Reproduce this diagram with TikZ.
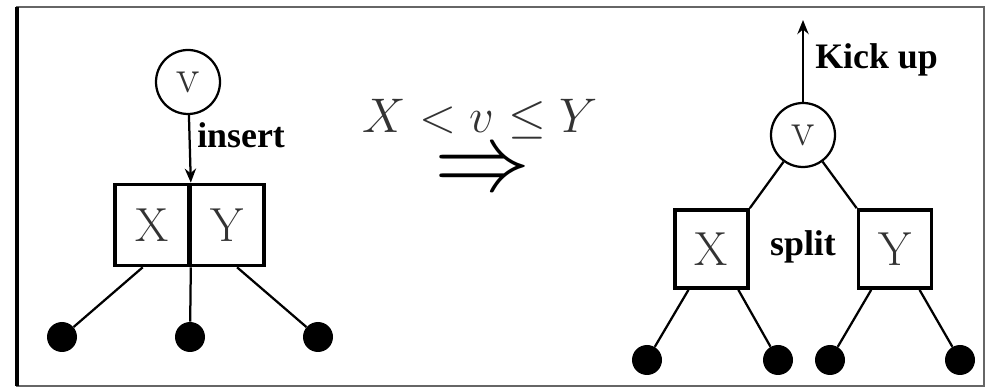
\documentclass[tikz,border=0pt]{standalone}
\usepackage{amsmath}
\usepackage{graphicx}
\usepackage{fontspec}
\usetikzlibrary{arrows.meta, positioning, calc}
\newfontfamily\labelfont{Liberation Serif}

\begin{document}
\begin{tikzpicture}[
  key/.style={rectangle, draw, line width=2.6pt, minimum width=1.85cm, minimum height=2.025cm,
    inner sep=0pt, text=black!80, font=\fontsize{34}{34}\selectfont},
  vnode/.style={circle, draw, line width=1.6pt, minimum size=1.6cm, inner sep=0pt,
    text=black!80, font=\fontsize{34}{34}\selectfont},
  leaf/.style={circle, fill=black, minimum size=0.75cm, inner sep=0pt},
  edge/.style={line width=1.6pt},
  line/.style={-{Stealth[length=10pt, width=8pt]}, line width=1.6pt},
  tag/.style={font=\labelfont\bfseries\fontsize{25.5}{25.5}\selectfont, inner sep=0pt}
]
\useasboundingbox (0,0) rectangle (24.725,9.725);
\draw[black!60, line width=1.2pt] (0.425,0.075) rectangle (24.6,9.55);
\draw[line width=3.5pt] (0.425,0.075) -- (0.425,9.55);

% before: v goes into the full node
\node[vnode] (lv) at (4.7,7.675) {v};
\node[key]   (lx) at (3.8,4.1)   {X};
\node[key]   (ly) at (5.675,4.1) {Y};
\node[leaf]  (l1) at (1.55,1.3)  {};
\node[leaf]  (l2) at (4.75,1.3)  {};
\node[leaf]  (l3) at (7.95,1.3)  {};
\node[tag, anchor=west] (ins) at (4.925,6.35) {insert};

\draw[line] (lv) -- (lx.north east);
\draw[edge] ($(lx.south west)!0.38!(lx.south east)$) -- (l1);
\draw[edge] (lx.south east) -- (l2);
\draw[edge] ($(ly.south west)!0.63!(ly.south east)$) -- (l3);

% condition
\node[text=black!80, inner sep=0pt, font=\fontsize{24.88}{24.88}\selectfont] (cond) at (12.0,6.75)
  {\scalebox{1.39}{$X < v \leq Y$}};
\node[font=\fontsize{24.88}{24.88}\selectfont, inner sep=0pt] (implies) at (12.075,5.4)
  {\scalebox{2.75}{$\Rightarrow$}};

% after: split and kick up
\node[vnode] (rv) at (20.075,6.35) {v};
\node[key, minimum width=1.825cm, minimum height=1.95cm] (rx) at (17.7875,3.5) {X};
\node[key, minimum width=1.825cm, minimum height=1.95cm] (ry) at (22.375,3.5)  {Y};
\node[leaf] (r1) at (16.175,0.725) {};
\node[leaf] (r2) at (19.45,0.725)  {};
\node[leaf] (r3) at (20.75,0.725)  {};
\node[leaf] (r4) at (24.0,0.725)   {};
\node[tag] (split) at (20.075,3.55) {split};
\node[tag, anchor=west] (kick) at (20.375,8.225) {Kick up};
\coordinate (up) at (20.075,9.225);

\draw[line] (rv) -- (up);
\draw[edge] (rv) -- (rx.north east);
\draw[edge] (rv) -- (ry.north west);
\draw[edge] ($(rx.south west)!0.2!(rx.south east)$) -- (r1);
\draw[edge] ($(rx.south west)!0.85!(rx.south east)$) -- (r2);
\draw[edge] ($(ry.south west)!0.19!(ry.south east)$) -- (r3);
\draw[edge] ($(ry.south west)!0.82!(ry.south east)$) -- (r4);
\end{tikzpicture}
\end{document}
